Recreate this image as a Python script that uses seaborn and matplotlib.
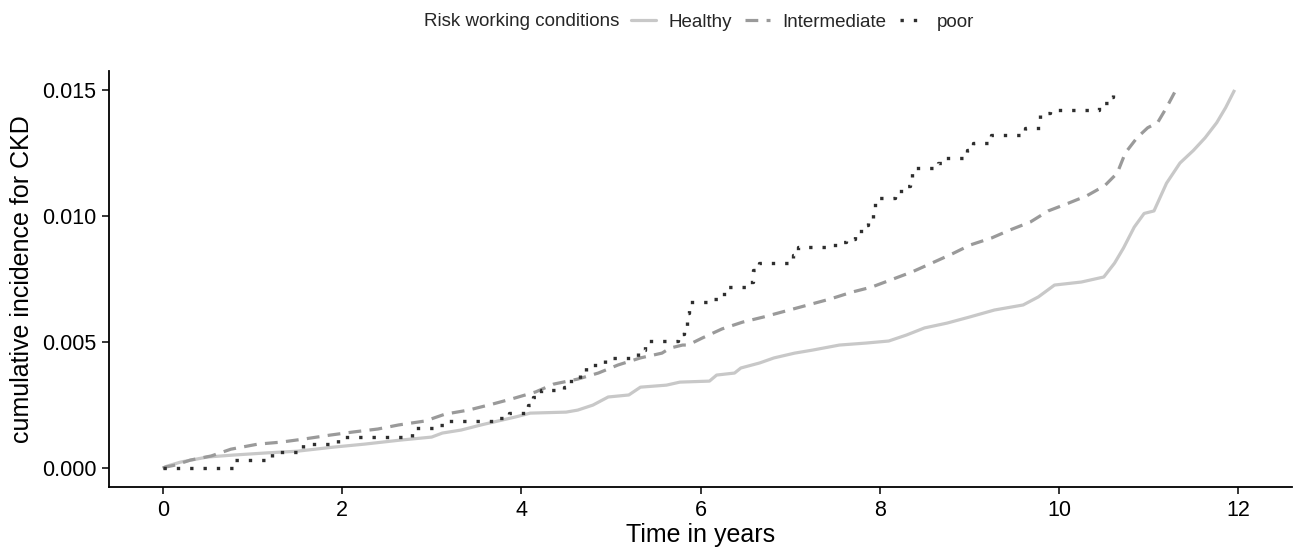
import numpy as np
import pandas as pd
import matplotlib
matplotlib.use("Agg")
import matplotlib.pyplot as plt
import seaborn as sns
from matplotlib.lines import Line2D

# ---- data ----
healthy_time = [0, 0.05, 0.2, 0.5, 0.8, 1.15, 1.5, 1.9, 2.25, 2.65, 3.0, 3.12, 3.33, 3.55,
                3.78, 3.95, 4.1, 4.5, 4.63, 4.8, 4.97, 5.2, 5.33, 5.62, 5.77, 6.1, 6.18,
                6.38, 6.45, 6.66, 6.82, 7.05, 7.25, 7.55, 7.85, 8.1, 8.2, 8.3, 8.5, 8.75,
                9.0, 9.28, 9.6, 9.77, 9.95, 10.25, 10.5, 10.62, 10.72, 10.84, 10.95,
                11.06, 11.2, 11.35, 11.5, 11.63, 11.76, 11.86, 11.96]
healthy_cif = [0, 0.00008, 0.00024, 0.00044, 0.00052, 0.0006, 0.00067, 0.00083, 0.00095,
               0.00111, 0.00123, 0.00139, 0.00151, 0.00171, 0.0019, 0.00204, 0.00218,
               0.00222, 0.0023, 0.0025, 0.00282, 0.0029, 0.00321, 0.00329, 0.00341,
               0.00345, 0.00369, 0.00377, 0.00397, 0.00417, 0.00437, 0.00456, 0.00468,
               0.00488, 0.00496, 0.00504, 0.00516, 0.00528, 0.00556, 0.00575, 0.00599,
               0.00627, 0.00647, 0.00679, 0.00726, 0.00738, 0.00758, 0.00813, 0.00873,
               0.00956, 0.0101, 0.0102, 0.0113, 0.0121, 0.0126, 0.0131, 0.0137, 0.0143,
               0.0150]

intermediate_time = [0, 0.03, 0.14, 0.31, 0.54, 0.76, 1.06, 1.32, 1.57, 1.87, 2.12, 2.40,
                     2.63, 2.93, 3.15, 3.41, 3.68, 3.91, 4.16, 4.36, 4.63, 4.86, 5.08,
                     5.33, 5.57, 5.66, 5.80, 5.86, 6.02, 6.24, 6.47, 6.70, 6.95, 7.20,
                     7.45, 7.69, 7.91, 8.15, 8.36, 8.58, 8.81, 9.01, 9.25, 9.45, 9.68,
                     9.88, 10.10, 10.31, 10.51, 10.65, 10.74, 10.87, 10.99, 11.10, 11.20,
                     11.29]
intermediate_cif = [0, 0.00004, 0.00012, 0.00032, 0.00048, 0.00075, 0.00095, 0.00103,
                    0.00115, 0.00131, 0.00143, 0.00155, 0.00171, 0.00187, 0.00214,
                    0.0023, 0.00254, 0.00276, 0.00302, 0.00333, 0.00353, 0.00377,
                    0.00409, 0.00437, 0.00456, 0.00476, 0.00488, 0.00488, 0.00516,
                    0.00552, 0.00579, 0.00599, 0.00623, 0.00647, 0.00671, 0.00698,
                    0.00718, 0.0075, 0.00778, 0.00813, 0.0085, 0.00885, 0.00913, 0.00944,
                    0.00976, 0.0102, 0.0105, 0.0108, 0.0112, 0.0117, 0.0125, 0.0131,
                    0.0135, 0.0137, 0.0143, 0.0149]

poor_time = [0, 0.80, 1.22, 1.57, 1.95, 2.78, 3.08, 3.17, 3.75, 3.86, 4.07, 4.13, 4.22,
             4.48, 4.56, 4.65, 4.72, 4.93, 5.30, 5.38, 5.75, 5.82, 5.85, 5.87, 6.13, 6.22,
             6.30, 6.55, 6.59, 6.65, 7.03, 7.09, 7.50, 7.62, 7.72, 7.79, 7.87, 7.92,
             7.95, 8.17, 8.29, 8.34, 8.36, 8.65, 8.74, 8.97, 9.04, 9.24, 9.62, 9.79,
             9.90, 10.45, 10.55, 10.60]
poor_cif = [0, 0.00032, 0.00062, 0.00095, 0.00123, 0.00159, 0.00171, 0.00187, 0.00198,
            0.00218, 0.0025, 0.00282, 0.0031, 0.00321, 0.00353, 0.00377, 0.00409, 0.00437,
            0.00468, 0.00504, 0.00532, 0.00564, 0.00615, 0.00659, 0.00671, 0.0069,
            0.00718, 0.00738, 0.00786, 0.00813, 0.00845, 0.00877, 0.00897, 0.00909,
            0.00933, 0.00964, 0.00984, 0.0103, 0.0107, 0.0110, 0.0112, 0.0115, 0.0119,
            0.0121, 0.0123, 0.0126, 0.0129, 0.0132, 0.0135, 0.0141, 0.0142, 0.0145,
            0.0147, 0.0148]

groups = ["Healthy", "Intermediate", "poor"]
legend_title = "Risk working conditions"
x_ticks = [0, 2, 4, 6, 8, 10, 12]
y_ticks = [0.000, 0.005, 0.010, 0.015]

df = pd.concat([
    pd.DataFrame({"time": healthy_time, "cif": healthy_cif, "group": "Healthy"}),
    pd.DataFrame({"time": intermediate_time, "cif": intermediate_cif, "group": "Intermediate"}),
    pd.DataFrame({"time": poor_time, "cif": poor_cif, "group": "poor"}),
], ignore_index=True)

# ---- styling ----
sns.set_theme(style="ticks")
plt.rcParams["font.family"] = ["Liberation Sans", "DejaVu Sans"]

colors = {"Healthy": "#c8c8c8", "Intermediate": "#9a9a9a", "poor": "#2e2e2e"}
styles = {"Healthy": "-", "Intermediate": (0, (4.0, 2.6)), "poor": (0, (1, 3))}
draws = {"Healthy": "default", "Intermediate": "default", "poor": "steps-post"}
lws = {"Healthy": 2.3, "Intermediate": 2.3, "poor": 2.4}

fig = plt.figure(figsize=(12.96, 5.47), dpi=100)
ax = fig.add_axes([109 / 1296, 1 - 487 / 547, (1292 - 109) / 1296, (487 - 71) / 547])

for g in groups:
    sub = df[df["group"] == g]
    sns.lineplot(data=sub, x="time", y="cif", ax=ax, color=colors[g],
                 linestyle=styles[g], drawstyle=draws[g], linewidth=lws[g],
                 estimator=None, sort=False, legend=False,
                 dash_capstyle="butt", solid_capstyle="butt")

ax.set_xlim(-0.6, 12.6)
ax.set_ylim(-0.00075, 0.01575)
ax.set_xticks(x_ticks)
ax.set_yticks(y_ticks)
ax.set_yticklabels([f"{v:.3f}" for v in y_ticks])
ax.set_xlabel("Time in years", fontsize=18, color="black", labelpad=2)
ax.set_ylabel("cumulative incidence for CKD", fontsize=18, color="black", labelpad=6)
ax.tick_params(axis="both", labelsize=15.5, colors="black", length=5, width=1.1, pad=4)
for s in ["left", "bottom"]:
    ax.spines[s].set_linewidth(1.3)
    ax.spines[s].set_color("black")
sns.despine(ax=ax)

# ---- legend on top, horizontal ----
handles = [Line2D([0], [0], color=colors[g], linestyle=styles[g], linewidth=lws[g],
                  dash_capstyle="butt") for g in groups]
fig.text(619 / 1296, 1 - 22 / 547, legend_title, ha="right", va="center", fontsize=13.5)
fig.legend(handles, groups, loc="center left", bbox_to_anchor=(631 / 1296, 1 - 22 / 547),
           ncol=3, frameon=False, fontsize=13.5, handlelength=1.35, handletextpad=0.65,
           columnspacing=0.7, borderpad=0, borderaxespad=0)

fig.savefig("out.png", dpi=100)
